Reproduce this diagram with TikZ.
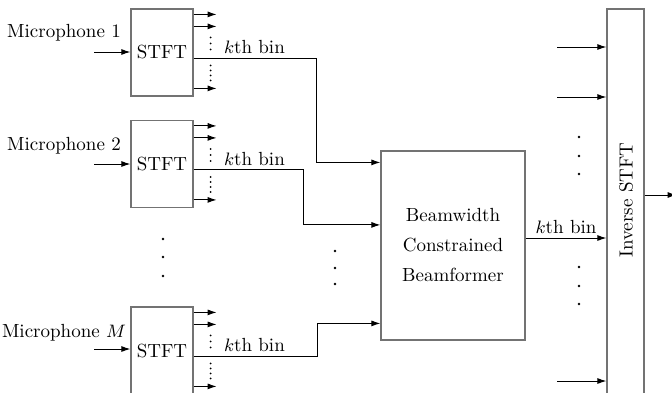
\documentclass[tikz,border=0pt]{standalone}
\usetikzlibrary{arrows.meta,calc}
\begin{document}
\begin{tikzpicture}[x=0.5pt,y=-0.5pt,
  arr/.style={-{Latex[length=4.5pt,width=3pt]},line width=0.5pt},
  blk/.style={draw=black!55,line width=0.6pt,inner sep=0pt},
  lbl/.style={font=\fontsize{9.5}{12}\selectfont,inner sep=1pt},
  stftbox/.style={blk,minimum width=31pt,minimum height=43.5pt,font=\fontsize{9.5}{12}\selectfont}]
\useasboundingbox (0,0) rectangle (672,392);
\clip (0,0) rectangle (672,392);

% STFT boxes
\node[stftbox] (s1) at (162,52.5) {STFT};
\node[stftbox] (s2) at (162,164) {STFT};
\node[stftbox] (s3) at (162,350.5) {STFT};

% microphone labels and inputs
\node[lbl] (m1) at (64,33) {Microphone 1};
\node[lbl] (m2) at (64,146) {Microphone 2};
\node[lbl] (m3) at (64,333) {Microphone $M$};
\coordinate (in1) at (94,52);
\coordinate (in2) at (94,164);
\coordinate (in3) at (94,349);
\draw[arr] (in1) -- (in1 -| s1.west);
\draw[arr] (in2) -- (in2 -| s2.west);
\draw[arr] (in3) -- (in3 -| s3.west);

% STFT outputs
\foreach \s in {s1,s2,s3}{
  \draw[arr] ([yshift=-3pt]\s.north east) -- ++(23,0);
  \draw[arr] ([yshift=-9pt]\s.north east) -- ++(23,0);
  \draw[arr] ([yshift=-40pt]\s.north east) -- ++(23,0);
  \foreach \d in {14.5,17.5,20.5,28.5,31,33.5,36}
    \fill ([xshift=8.5pt,yshift=-\d pt]\s.north east) circle (0.5pt);
  \node[lbl,anchor=west] (\s lab) at ([xshift=14pt,yshift=-19.5pt]\s.north east) {$k$th bin};
  \coordinate (\s k) at ([yshift=-25pt]\s.north east);
}

% Beamformer
\node[blk,minimum width=72pt,minimum height=94.5pt,align=center,font=\fontsize{9.5}{15}\selectfont] (bf) at (453,245.5) {Beamwidth\\Constrained\\Beamformer};
\coordinate (b1) at ([yshift=-6pt]bf.north west);
\coordinate (b2) at ([yshift=-37.25pt]bf.north west);
\coordinate (b3) at ([yshift=-86.5pt]bf.north west);
\draw[arr] (s1k) -| ([xshift=-32pt]b1) -- (b1);
\draw[arr] (s2k) -| ([xshift=-38.5pt]b2) -- (b2);
\draw[arr] (s3k) -| ([xshift=-31.5pt]b3) -- (b3);

% vertical dots
\foreach \p in {(163,239),(163,257),(163,276),(335,251),(335,268),(335,284),
  (579,137),(579,156),(579,174),(579,267),(579,286),(579,304)}
  \fill \p circle (0.65pt);

% Inverse STFT
\node[blk,minimum width=18.5pt,minimum height=195.5pt] (is) at (625.5,204.5) {};
\node[lbl,rotate=90] (istxt) at (626,200) {Inverse STFT};
\coordinate (i1) at (557,47);
\coordinate (i2) at (557,97);
\coordinate (i3) at (557,381);
\draw[arr] (i1) -- (i1 -| is.west);
\draw[arr] (i2) -- (i2 -| is.west);
\draw[arr] (i3) -- (i3 -| is.west);
\coordinate (bo) at ([yshift=3.75pt]bf.east);
\draw[arr] (bo) -- (bo -| is.west) node[midway,above,lbl,inner sep=2pt] (kb) {$k$th bin};
\coordinate (io) at (is.east |- 0,195);
\draw[arr] (io) -- ++(32,0);
\end{tikzpicture}
\end{document}
